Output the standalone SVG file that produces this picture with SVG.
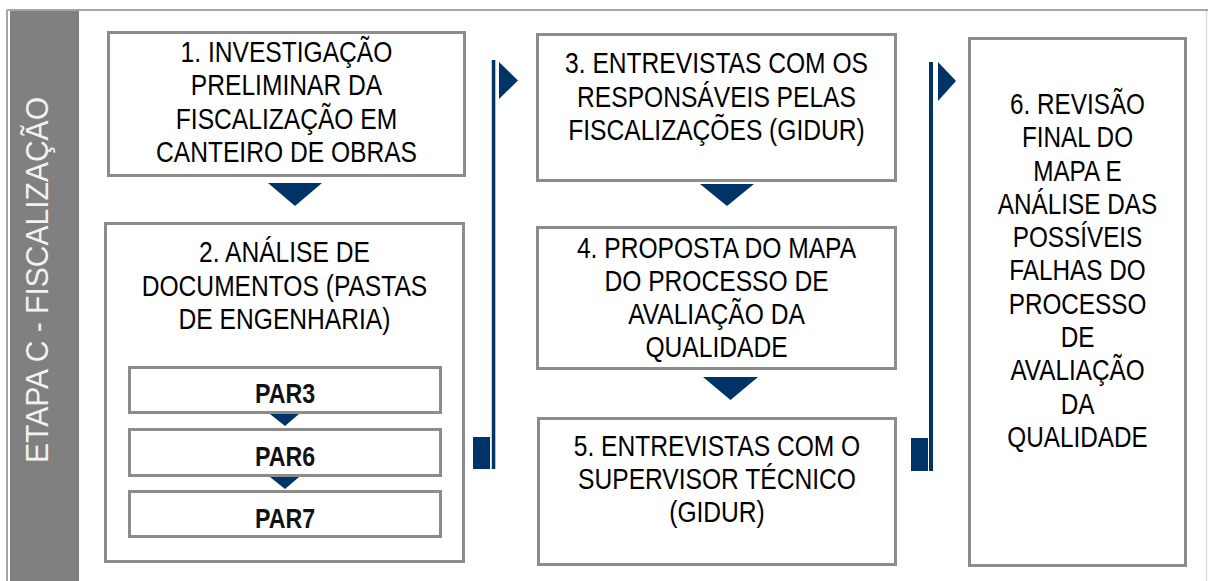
<svg xmlns="http://www.w3.org/2000/svg" width="1208" height="581" viewBox="0 0 1208 581">
<style>
.box{fill:#ffffff;stroke:#8c8c8c;stroke-width:3}
.navy{fill:#003366}
.t{font-family:"Liberation Sans",Arial,sans-serif;font-size:30px;fill:#000000;text-anchor:middle}
.p{font-family:"Liberation Sans",Arial,sans-serif;font-size:27px;font-weight:bold;fill:#111111;text-anchor:middle}
.v{font-family:"Liberation Sans",Arial,sans-serif;font-size:32px;fill:#f2f2f2;text-anchor:middle}
</style>
<rect x="0" y="0" width="1208" height="581" fill="#ffffff"/>
<g id="frame">
<line x1="7" y1="10" x2="1208" y2="10" stroke="#a6a6a6" stroke-width="2"/>
<line x1="7" y1="10" x2="7" y2="581" stroke="#a6a6a6" stroke-width="2"/>
<line x1="1206.5" y1="11" x2="1206.5" y2="581" stroke="#dcdcdc" stroke-width="1.5"/>
<rect x="10" y="11" width="69" height="570" fill="#808080"/>
<text class="v" transform="translate(48,280) rotate(-90)" x="0" y="0" textLength="366" lengthAdjust="spacingAndGlyphs">ETAPA C - FISCALIZAÇÃO</text>
</g>
<g id="connectors">
<path class="navy" d="M268,183 L322,183 L295,206 Z"/>
<path class="navy" d="M700,184 L754,184 L727,206 Z"/>
<path class="navy" d="M703,377 L758,377 L730.5,400 Z"/>
<rect class="navy" x="491.8" y="60" width="3.5" height="409"/>
<path class="navy" d="M499,62 L518,80.5 L499,99 Z"/>
<rect class="navy" x="473" y="437" width="17" height="32"/>
<rect class="navy" x="929" y="62" width="4" height="409"/>
<path class="navy" d="M938,62 L956,81 L938,101 Z"/>
<rect class="navy" x="911" y="438" width="17" height="33"/>
</g>
<g id="node1">
<rect class="box" x="108.5" y="32.5" width="356" height="143"/>
<text class="t" transform="translate(286.5,0) scale(0.82,1)"><tspan x="0" y="62">1. INVESTIGAÇÃO</tspan><tspan x="0" y="95.5">PRELIMINAR DA</tspan><tspan x="0" y="129">FISCALIZAÇÃO EM</tspan><tspan x="0" y="162.5">CANTEIRO DE OBRAS</tspan></text>
</g>
<g id="node2">
<rect class="box" x="105.5" y="223.5" width="358" height="338"/>
<text class="t" transform="translate(284.5,0) scale(0.82,1)"><tspan x="0" y="262.5">2. ANÁLISE DE</tspan><tspan x="0" y="296">DOCUMENTOS (PASTAS</tspan><tspan x="0" y="329.5">DE ENGENHARIA)</tspan></text>
</g>
<g id="par3">
<rect class="box" x="129.5" y="367.5" width="311" height="45"/>
<text class="p" transform="translate(285,0) scale(0.86,1)" x="0" y="403">PAR3</text>
</g>
<g id="par6">
<rect class="box" x="129.5" y="429.5" width="311" height="46"/>
<text class="p" transform="translate(285,0) scale(0.86,1)" x="0" y="466">PAR6</text>
</g>
<g id="par7">
<rect class="box" x="129.5" y="491.5" width="311" height="45"/>
<text class="p" transform="translate(285,0) scale(0.86,1)" x="0" y="528">PAR7</text>
</g>
<g id="par-connectors">
<path class="navy" d="M270,414 L299,414 L285,426 Z"/>
<path class="navy" d="M270,477 L299,477 L285,489 Z"/>
</g>
<g id="node3">
<rect class="box" x="537.5" y="34.5" width="358" height="146"/>
<text class="t" transform="translate(716.5,0) scale(0.82,1)"><tspan x="0" y="73.5">3. ENTREVISTAS COM OS</tspan><tspan x="0" y="107">RESPONSÁVEIS PELAS</tspan><tspan x="0" y="140.5">FISCALIZAÇÕES (GIDUR)</tspan></text>
</g>
<g id="node4">
<rect class="box" x="537.5" y="227.5" width="358" height="141"/>
<text class="t" transform="translate(716.5,0) scale(0.82,1)"><tspan x="0" y="258.5">4. PROPOSTA DO MAPA</tspan><tspan x="0" y="291.5">DO PROCESSO DE</tspan><tspan x="0" y="324.5">AVALIAÇÃO DA</tspan><tspan x="0" y="357.5">QUALIDADE</tspan></text>
</g>
<g id="node5">
<rect class="box" x="538.5" y="418.5" width="357" height="146"/>
<text class="t" transform="translate(717,0) scale(0.82,1)"><tspan x="0" y="456.5">5. ENTREVISTAS COM O</tspan><tspan x="0" y="489.5">SUPERVISOR TÉCNICO</tspan><tspan x="0" y="522.5">(GIDUR)</tspan></text>
</g>
<g id="node6">
<rect class="box" x="969.5" y="38.5" width="216" height="527"/>
<text class="t" transform="translate(1077.5,0) scale(0.81,1)"><tspan x="0" y="114">6. REVISÃO</tspan><tspan x="0" y="147.3">FINAL DO</tspan><tspan x="0" y="180.6">MAPA E</tspan><tspan x="0" y="213.9">ANÁLISE DAS</tspan><tspan x="0" y="247.2">POSSÍVEIS</tspan><tspan x="0" y="280.5">FALHAS DO</tspan><tspan x="0" y="313.8">PROCESSO</tspan><tspan x="0" y="347.1">DE</tspan><tspan x="0" y="380.4">AVALIAÇÃO</tspan><tspan x="0" y="413.7">DA</tspan><tspan x="0" y="447">QUALIDADE</tspan></text>
</g>
</svg>
